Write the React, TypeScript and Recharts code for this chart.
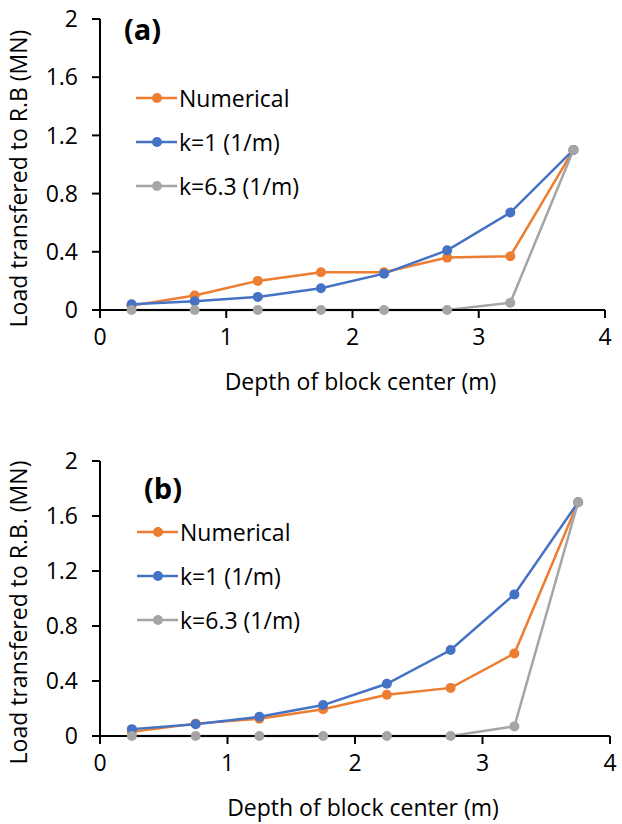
import { LineChart, Line, XAxis, YAxis, Legend } from 'recharts'

const depth = [0.25, 0.75, 1.25, 1.75, 2.25, 2.75, 3.25, 3.75]
const xTicks = [0, 1, 2, 3, 4]
const yTicks = [0, 0.4, 0.8, 1.2, 1.6, 2]

// panel (a)
const numericalA = [0.03, 0.1, 0.2, 0.26, 0.26, 0.36, 0.37, 1.1]
const k1A = [0.04, 0.06, 0.09, 0.15, 0.25, 0.41, 0.67, 1.1]
const k63A = [0, 0, 0, 0, 0, 0, 0.05, 1.1]

// panel (b)
const numericalB = [0.03, 0.09, 0.125, 0.195, 0.3, 0.35, 0.6, 1.7]
const k1B = [0.05, 0.085, 0.14, 0.225, 0.38, 0.625, 1.03, 1.7]
const k63B = [0, 0, 0, 0, 0, 0, 0.07, 1.7]

const FONT = '"Open Sans", sans-serif'
const ORANGE = '#ED7D31'
const BLUE = '#4472C4'
const GRAY = '#A5A5A5'

const build = (num: number[], k1: number[], k63: number[]) =>
  depth.map((d, i) => ({ depth: d, num: num[i], k1: k1[i], k63: k63[i] }))

function LegendBox(props: any) {
  const items = props.payload || []
  return (
    <div style={{ fontFamily: FONT, fontSize: 23, color: '#000' }}>
      {items.map((it: any) => (
        <div key={it.value} style={{ display: 'flex', alignItems: 'center', height: 44 }}>
          <svg width={42} height={14}>
            <line x1={0} y1={7} x2={41} y2={7} stroke={it.color} strokeWidth={2.5} />
            <circle cx={21} cy={7} r={5} fill={it.color} />
          </svg>
          <span style={{ marginLeft: 1 }}>{it.value}</span>
        </div>
      ))}
    </div>
  )
}

interface PanelProps {
  tag: string
  tagPos: { left: number; top: number }
  data: any[]
  yTitle: string
  margin: { top: number; right: number }
  xHeight: number
  legendPos: { left: number; top: number }
}

function Panel({ tag, tagPos, data, yTitle, margin, xHeight, legendPos }: PanelProps) {
  return (
    <div style={{ position: 'relative', width: 622, height: 412 }}>
      <LineChart
        width={622}
        height={412}
        data={data}
        margin={{ top: margin.top, right: margin.right, bottom: 0, left: 0 }}
      >
        <XAxis
          dataKey="depth"
          type="number"
          domain={[0, 4]}
          ticks={xTicks}
          height={xHeight}
          stroke="#000"
          strokeWidth={2}
          tickSize={8}
          tickMargin={11}
          tick={{ fill: '#000', fontSize: 23, fontFamily: FONT }}
          label={({ viewBox }: any) => (
            <text
              x={viewBox.x + viewBox.width / 2 + 8}
              y={viewBox.y + 80}
              textAnchor="middle"
              fontSize={23}
              fontFamily={FONT}
              fill="#000"
            >
              Depth of block center (m)
            </text>
          )}
        />
        <YAxis
          domain={[0, 2]}
          ticks={yTicks}
          width={100}
          stroke="#000"
          strokeWidth={2}
          tickSize={8}
          tickMargin={14}
          tick={{ fill: '#000', fontSize: 23, fontFamily: FONT }}
          label={({ viewBox }: any) => {
            const cx = 27
            const cy = viewBox.y + viewBox.height / 2 + 14
            return (
              <text
                x={cx}
                y={cy}
                transform={`rotate(-90 ${cx} ${cy})`}
                textAnchor="middle"
                fontSize={23}
                fontFamily={FONT}
                fill="#000"
              >
                {yTitle}
              </text>
            )
          }}
        />
        <Legend
          layout="vertical"
          align="center"
          verticalAlign="middle"
          content={LegendBox}
          wrapperStyle={{ left: legendPos.left, top: legendPos.top, width: 240 }}
        />
        <Line dataKey="num" name="Numerical" stroke={ORANGE} strokeWidth={2.5}
          dot={{ r: 5, fill: ORANGE, stroke: ORANGE, strokeWidth: 0 }} isAnimationActive={false} />
        <Line dataKey="k1" name="k=1 (1/m)" stroke={BLUE} strokeWidth={2.5}
          dot={{ r: 5, fill: BLUE, stroke: BLUE, strokeWidth: 0 }} isAnimationActive={false} />
        <Line dataKey="k63" name="k=6.3 (1/m)" stroke={GRAY} strokeWidth={2.5}
          dot={{ r: 5, fill: GRAY, stroke: GRAY, strokeWidth: 0 }} isAnimationActive={false} />
      </LineChart>
      <div
        style={{
          position: 'absolute', left: tagPos.left, top: tagPos.top,
          fontFamily: FONT, fontWeight: 700, fontSize: 29, lineHeight: 1,
        }}
      >
        {tag}
      </div>
    </div>
  )
}

export default function App() {
  return (
    <div style={{ position: 'absolute', left: 0, top: 0, width: 622, height: 824, background: '#fff' }}>
      <Panel
        tag="(a)"
        tagPos={{ left: 124, top: 14 }}
        data={build(numericalA, k1A, k63A)}
        yTitle="Load transfered to R.B (MN)"
        margin={{ top: 19, right: 17 }}
        xHeight={102}
        legendPos={{ left: 136, top: 76 }}
      />
      <Panel
        tag="(b)"
        tagPos={{ left: 144, top: 61 }}
        data={build(numericalB, k1B, k63B)}
        yTitle="Load transfered to R.B. (MN)"
        margin={{ top: 49, right: 12 }}
        xHeight={88}
        legendPos={{ left: 137, top: 98 }}
      />
    </div>
  )
}
